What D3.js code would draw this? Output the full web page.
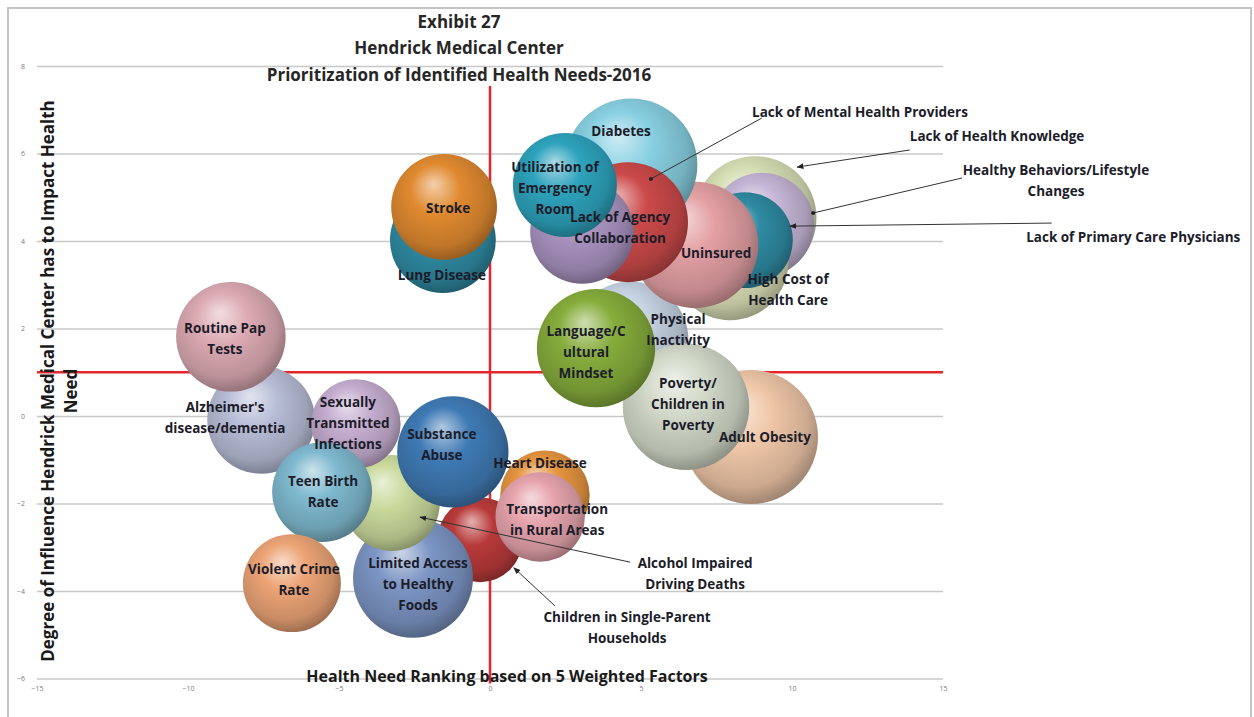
<!DOCTYPE html>
<html>
<head>
<meta charset="utf-8">
<script src="https://cdn.jsdelivr.net/npm/d3@7"></script>
<style>
	body { margin: 0; background: #fff; }
	svg { display: block; }
	text { font-family: "Open Sans", Lato, sans-serif; }
</style>
</head>
<body>
<div id="chart"></div>
<script>
// bubbles, listed in drawing order (back to front)
var needs = ['Physical Inactivity', 'Adult Obesity', 'Poverty/Children in Poverty', 'Language/Cultural Mindset',
	'Lack of Health Knowledge', 'Healthy Behaviors/Lifestyle Changes', 'High Cost of Health Care', 'Lack of Primary Care Physicians',
	'Uninsured', 'Diabetes', 'Lack of Mental Health Providers', 'Lack of Agency Collaboration', 'Utilization of Emergency Room',
	'Lung Disease', 'Stroke',
	'Children in Single-Parent Households', 'Heart Disease', 'Transportation in Rural Areas', 'Limited Access to Healthy Foods',
	'Alcohol Impaired Driving Deaths', 'Substance Abuse', "Alzheimer's disease/dementia", 'Routine Pap Tests',
	'Sexually Transmitted Infections', 'Teen Birth Rate', 'Violent Crime Rate'];
var ranking = [4.64, 8.64, 6.49, 3.51,
	8.77, 9.01, 7.95, 8.44,
	6.79, 4.67, 4.57, 3.05, 2.48,
	-1.56, -1.52,
	-0.33, 1.82, 1.66, -2.55,
	-3.25, -1.23, -7.58, -8.58,
	-4.44, -5.56, -6.56];
var influence = [1.74, -0.48, 0.21, 1.55,
	4.53, 4.37, 3.52, 4.02,
	3.91, 5.74, 4.43, 4.21, 5.28,
	4.02, 4.78,
	-2.83, -1.81, -2.31, -3.70,
	-1.99, -0.82, -0.09, 1.81,
	-0.18, -1.74, -3.82];
var weight = [34, 45, 40, 35,
	38, 27, 34, 23,
	40, 44, 36, 27, 27,
	28, 28,
	18, 20, 20, 36,
	23, 31, 29, 30,
	20, 25, 24];

var xTicks = [-15, -10, -5, 0, 5, 10, 15];
var yTicks = [-6, -4, -2, 0, 2, 4, 6, 8];
var titleLines = ['Exhibit 27', 'Hendrick Medical Center', 'Prioritization of Identified Health Needs-2016'];
var xTitle = 'Health Need Ranking based on 5 Weighted Factors';
var yTitle = ['Degree of Influence Hendrick Medical Center has to Impact Health', 'Need'];

// styles / layout
var bubbleColors = ['#c5d2e2', '#efc7a8', '#d2d9c9', '#86ad3c',
	'#d6deb4', '#c5b6d6', '#dfe3b9', '#2f8ba3',
	'#e3a0a3', '#88d0e2', '#cc4a4a', '#a993bf', '#2ea3bd',
	'#2f8ba3', '#e08a30',
	'#b83a3a', '#e5953f', '#e6a4ad', '#7c95c4',
	'#c9d99c', '#3f7ab4', '#b7bdd6', '#dcaab3',
	'#c6aed0', '#7fb9cf', '#eca476'];
// in-bubble labels: lines and pixel offset from bubble centre (null = callout)
var bubbleLabels = [
	[['Physical', 'Inactivity'], 48, -10],
	[['Adult Obesity'], 14, 0],
	[['Poverty/', 'Children in', 'Poverty'], 2, -3],
	[['Language/C', 'ultural', 'Mindset'], -10, 4],
	null, null,
	[['High Cost of', 'Health Care'], 58, 28],
	null,
	[['Uninsured'], 21, 8],
	[['Diabetes'], -10, -34],
	null,
	[['Lack of Agency', 'Collaboration'], 38, -4],
	[['Utilization of', 'Emergency', 'Room'], -10, 3],
	[['Lung Disease'], -1, 35],
	[['Stroke'], 4, 1],
	null,
	[['Heart Disease'], -5, -32],
	[['Transportation', 'in Rural Areas'], 17, 3],
	[['Limited Access', 'to Healthy', 'Foods'], 5, 6],
	null,
	[['Substance', 'Abuse'], -11, -7],
	[["Alzheimer's", 'disease/dementia'], -36, -2],
	[['Routine Pap', 'Tests'], -6, 2],
	[['Sexually', 'Transmitted', 'Infections'], -8, -1],
	[['Teen Birth', 'Rate'], 1, 0],
	[['Violent Crime', 'Rate'], 2, -3]
];
// callouts: label lines, label centre, line start, line end (data units), end mark
var callouts = [
	{ lines: ['Lack of Mental Health Providers'], at: [12.25, 6.95], from: [9.0, 6.81], to: [5.33, 5.42], mark: 'dot' },
	{ lines: ['Lack of Health Knowledge'], at: [16.79, 6.40], from: [13.9, 6.08], to: [10.17, 5.69], mark: 'arrow' },
	{ lines: ['Healthy Behaviors/Lifestyle', 'Changes'], at: [18.74, 5.37], from: [15.63, 5.44], to: [10.7, 4.64], mark: 'dot' },
	{ lines: ['Lack of Primary Care Physicians'], at: [21.3, 4.09], from: [18.6, 4.41], to: [9.93, 4.34], mark: 'arrow' },
	{ lines: ['Alcohol Impaired', 'Driving Deaths'], at: [6.79, -3.61], from: [4.64, -3.34], to: [-2.32, -2.31], mark: 'arrow' },
	{ lines: ['Children in Single-Parent', 'Households'], at: [4.54, -4.83], from: [2.15, -4.34], to: [0.79, -3.47], mark: 'arrow' }
];

var W = 1254, H = 717;
var plot = { left: 37, right: 943, top: 66, bottom: 678.5 };

var svg = d3.select('#chart').append('svg')
	.attr('width', W)
	.attr('height', H);

var x = d3.scaleLinear().domain([-15, 15]).range([plot.left, plot.right]);
var y = d3.scaleLinear().domain([-6, 8]).range([plot.bottom, plot.top]);
var r = d3.scaleSqrt().domain([0, 50]).range([0, 70.7]);

// frame
svg.append('rect')
	.attr('x', 8).attr('y', 8)
	.attr('width', 1243).attr('height', 720)
	.attr('fill', 'none')
	.attr('stroke', '#c4c4c4')
	.attr('stroke-width', 2);

// gridlines + y ticks
var yAxis = svg.append('g')
	.attr('transform', 'translate(' + plot.left + ',0)')
	.call(d3.axisLeft(y).tickValues(yTicks).tickSize(-(plot.right - plot.left)).tickPadding(12));
yAxis.select('.domain').remove();
yAxis.selectAll('line').attr('stroke', '#c8c8c8').attr('stroke-width', 1.6);
yAxis.selectAll('text').attr('fill', '#7a7a7a').style('font-size', '7px').style('font-family', '"Open Sans", sans-serif');

var xAxis = svg.append('g')
	.attr('transform', 'translate(0,' + plot.bottom + ')')
	.call(d3.axisBottom(x).tickValues(xTicks).tickSize(0).tickPadding(8));
xAxis.select('.domain').remove();
xAxis.selectAll('text').attr('fill', '#7a7a7a').style('font-size', '7px').style('font-family', '"Open Sans", sans-serif');

// quadrant lines
svg.append('line')
	.attr('x1', plot.left).attr('x2', plot.right)
	.attr('y1', y(1)).attr('y2', y(1))
	.attr('stroke', '#e3262b').attr('stroke-width', 2.5);
svg.append('line')
	.attr('x1', x(0)).attr('x2', x(0))
	.attr('y1', 86).attr('y2', plot.bottom + 5)
	.attr('stroke', '#e3262b').attr('stroke-width', 2.5);

// sphere gradients
var defs = svg.append('defs');
var bubbles = needs.map(function(d, i){
	return { name: d, x: ranking[i], y: influence[i], w: weight[i], color: bubbleColors[i], label: bubbleLabels[i], id: 'g' + i };
});

bubbles.forEach(function(b){
	var c = d3.color(b.color);
	var g = defs.append('radialGradient')
		.attr('id', b.id)
		.attr('cx', '45%').attr('cy', '42%').attr('r', '62%')
		.attr('fx', '40%').attr('fy', '28%');
	g.append('stop').attr('offset', '0%').attr('stop-color', d3.interpolateRgb(b.color, '#ffffff')(0.6));
	g.append('stop').attr('offset', '38%').attr('stop-color', b.color);
	g.append('stop').attr('offset', '78%').attr('stop-color', c.darker(0.45));
	g.append('stop').attr('offset', '100%').attr('stop-color', c.darker(1.3));
});

svg.append('g')
	.selectAll('circle')
	.data(bubbles)
	.enter()
	.append('circle')
	.attr('cx', function(d){ return x(d.x); })
	.attr('cy', function(d){ return y(d.y); })
	.attr('r', function(d){ return r(d.w); })
	.attr('fill', function(d){ return 'url(#' + d.id + ')'; });

// bubble labels
var lineH = 21;
function multiline(g, lines, cx, cy, size){
	var t = g.append('text')
		.attr('text-anchor', 'middle')
		.attr('fill', '#1c1c2a')
		.style('font-size', size + 'px')
		.style('font-weight', 'bold');
	lines.forEach(function(l, k){
		t.append('tspan')
			.attr('x', cx)
			.attr('y', cy + (k - (lines.length - 1) / 2) * lineH)
			.attr('dy', '0.35em')
			.text(l);
	});
}

var labels = svg.append('g');
bubbles.filter(function(b){ return b.label; }).forEach(function(b){
	multiline(labels, b.label[0], x(b.x) + b.label[1], y(b.y) + b.label[2], 13.5);
});

// callouts
defs.append('marker')
	.attr('id', 'arrow')
	.attr('viewBox', '0 0 10 10')
	.attr('refX', 9).attr('refY', 5)
	.attr('markerWidth', 7).attr('markerHeight', 7)
	.attr('orient', 'auto')
	.append('path')
	.attr('d', 'M0,1 L10,5 L0,9 z')
	.attr('fill', '#222');
defs.append('marker')
	.attr('id', 'dot')
	.attr('viewBox', '0 0 10 10')
	.attr('refX', 5).attr('refY', 5)
	.attr('markerWidth', 5).attr('markerHeight', 5)
	.append('circle')
	.attr('cx', 5).attr('cy', 5).attr('r', 4)
	.attr('fill', '#222');

callouts.forEach(function(c){
	svg.append('line')
		.attr('x1', x(c.from[0])).attr('y1', y(c.from[1]))
		.attr('x2', x(c.to[0])).attr('y2', y(c.to[1]))
		.attr('stroke', '#333')
		.attr('stroke-width', 1)
		.attr('marker-end', 'url(#' + c.mark + ')');
	multiline(labels, c.lines, x(c.at[0]), y(c.at[1]), 13.5);
});
labels.raise();

// titles
titleLines.forEach(function(t, i){
	svg.append('text')
		.attr('x', 459)
		.attr('y', 22 + i * 26.5)
		.attr('dy', '0.35em')
		.attr('text-anchor', 'middle')
		.attr('fill', '#262626')
		.style('font-size', '17px')
		.style('font-weight', 'bold')
		.text(t);
});

svg.append('text')
	.attr('x', 507)
	.attr('y', 676)
	.attr('dy', '0.35em')
	.attr('text-anchor', 'middle')
	.attr('fill', '#1a1a1a')
	.style('font-size', '16px')
	.style('font-weight', 'bold')
	.text(xTitle);

yTitle.forEach(function(t, i){
	svg.append('text')
		.attr('transform', 'translate(' + (48 + i * 23) + ',' + (381 + (i ? 10 : 0)) + ') rotate(-90)')
		.attr('dy', '0.35em')
		.attr('text-anchor', 'middle')
		.attr('fill', '#1a1a1a')
		.style('font-size', '17px')
		.style('font-weight', 'bold')
		.text(t);
});
</script>
</body>
</html>
